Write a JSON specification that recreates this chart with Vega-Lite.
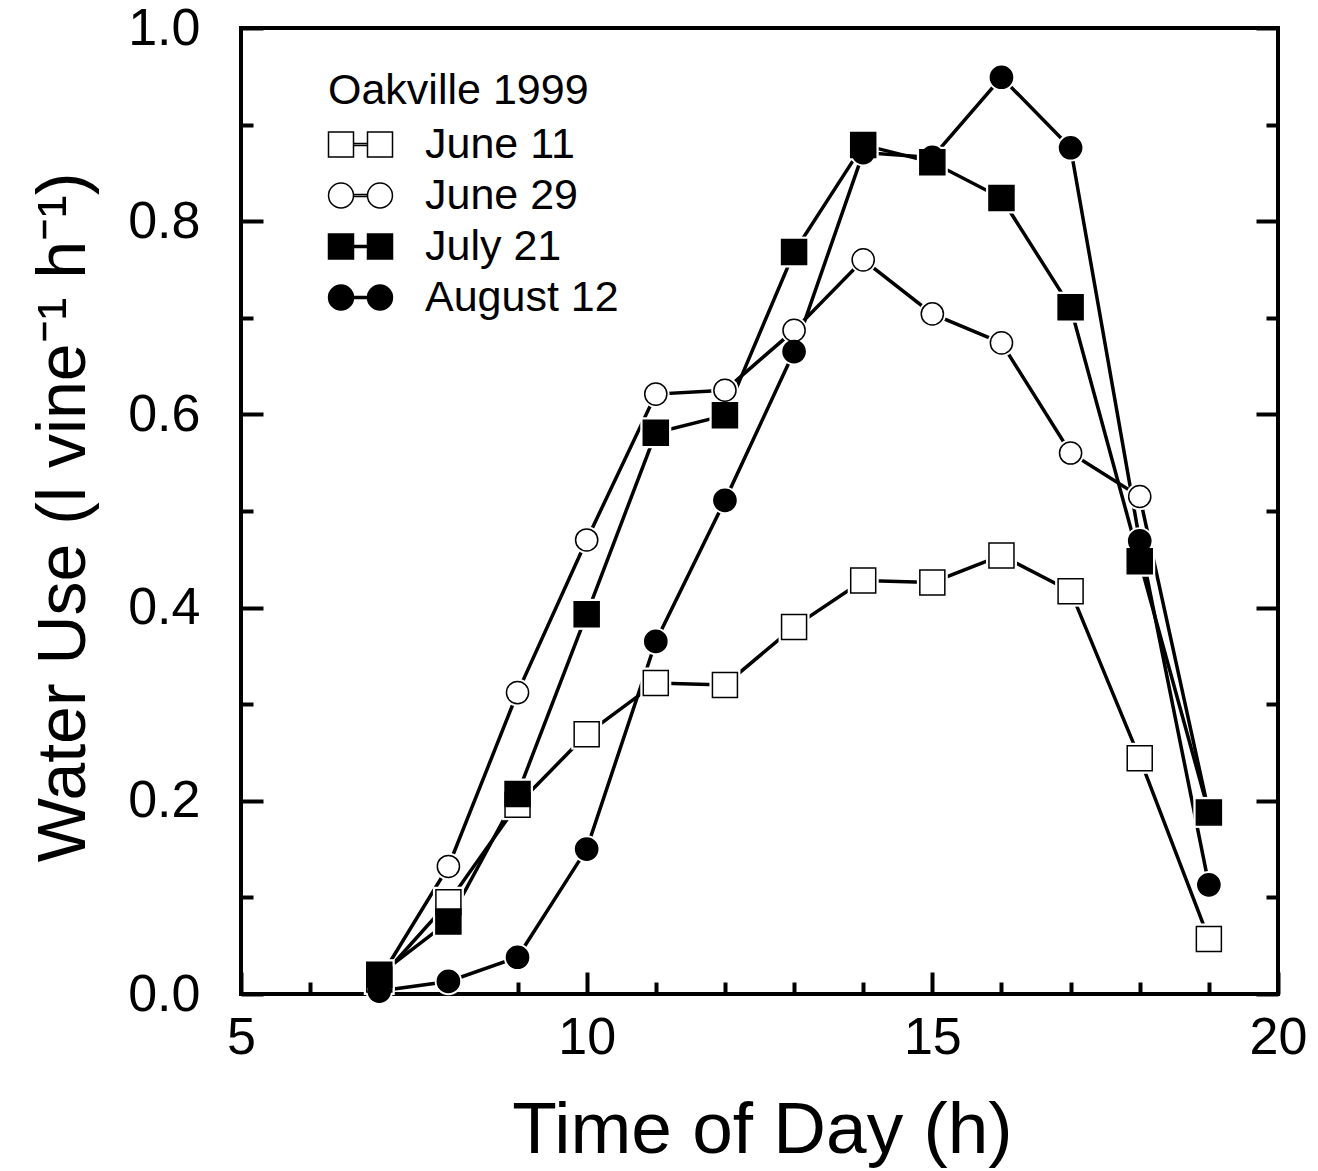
{
  "$schema": "https://vega.github.io/schema/vega-lite/v6.json",
  "width": 1037,
  "height": 966,
  "autosize": {"type": "none"},
  "padding": {"left": 241, "top": 28, "right": 40, "bottom": 177},
  "background": "white",
  "config": {
    "font": "Liberation Sans",
    "view": {"stroke": "black", "strokeWidth": 4},
    "axis": {
      "domain": false,
      "grid": false,
      "labelFont": "Liberation Sans",
      "labelFontSize": 52,
      "labelColor": "black",
      "tickColor": "black",
      "tickWidth": 4,
      "titleFont": "Liberation Sans",
      "titleFontWeight": "normal",
      "titleColor": "black"
    },
    "legend": {
      "orient": "none",
      "legendX": 87,
      "legendY": 42,
      "padding": 0,
      "titleFont": "Liberation Sans",
      "titleFontSize": 43,
      "titleFontWeight": "normal",
      "titleColor": "black",
      "titleLimit": 2000,
      "titlePadding": 10,
      "labelFont": "Liberation Sans",
      "labelFontSize": 43,
      "labelColor": "black",
      "labelLimit": 2000,
      "labelOffset": 54,
      "rowPadding": 7,
      "symbolStrokeWidth": 1.5,
      "symbolOpacity": 1,
      "symbolSize": 1024
    }
  },
  "data": {
    "values": [
      {"series": "June 11", "time": 7, "use": 0.015},
      {"series": "June 11", "time": 8, "use": 0.095},
      {"series": "June 11", "time": 9, "use": 0.196},
      {"series": "June 11", "time": 10, "use": 0.269},
      {"series": "June 11", "time": 11, "use": 0.322},
      {"series": "June 11", "time": 12, "use": 0.320},
      {"series": "June 11", "time": 13, "use": 0.380},
      {"series": "June 11", "time": 14, "use": 0.428},
      {"series": "June 11", "time": 15, "use": 0.426},
      {"series": "June 11", "time": 16, "use": 0.454},
      {"series": "June 11", "time": 17, "use": 0.417},
      {"series": "June 11", "time": 18, "use": 0.244},
      {"series": "June 11", "time": 19, "use": 0.057},
      {"series": "June 29", "time": 7, "use": 0.015},
      {"series": "June 29", "time": 8, "use": 0.132},
      {"series": "June 29", "time": 9, "use": 0.312},
      {"series": "June 29", "time": 10, "use": 0.470},
      {"series": "June 29", "time": 11, "use": 0.621},
      {"series": "June 29", "time": 12, "use": 0.625},
      {"series": "June 29", "time": 13, "use": 0.687},
      {"series": "June 29", "time": 14, "use": 0.760},
      {"series": "June 29", "time": 15, "use": 0.704},
      {"series": "June 29", "time": 16, "use": 0.674},
      {"series": "June 29", "time": 17, "use": 0.560},
      {"series": "June 29", "time": 18, "use": 0.515},
      {"series": "June 29", "time": 19, "use": 0.188},
      {"series": "August 12", "time": 7, "use": 0.003},
      {"series": "August 12", "time": 8, "use": 0.013},
      {"series": "August 12", "time": 9, "use": 0.038},
      {"series": "August 12", "time": 10, "use": 0.150},
      {"series": "August 12", "time": 11, "use": 0.365},
      {"series": "August 12", "time": 12, "use": 0.511},
      {"series": "August 12", "time": 13, "use": 0.665},
      {"series": "August 12", "time": 14, "use": 0.871},
      {"series": "August 12", "time": 15, "use": 0.866},
      {"series": "August 12", "time": 16, "use": 0.949},
      {"series": "August 12", "time": 17, "use": 0.876},
      {"series": "August 12", "time": 18, "use": 0.469},
      {"series": "August 12", "time": 19, "use": 0.113},
      {"series": "July 21", "time": 7, "use": 0.020},
      {"series": "July 21", "time": 8, "use": 0.075},
      {"series": "July 21", "time": 9, "use": 0.207},
      {"series": "July 21", "time": 10, "use": 0.393},
      {"series": "July 21", "time": 11, "use": 0.581},
      {"series": "July 21", "time": 12, "use": 0.599},
      {"series": "July 21", "time": 13, "use": 0.768},
      {"series": "July 21", "time": 14, "use": 0.879},
      {"series": "July 21", "time": 15, "use": 0.861},
      {"series": "July 21", "time": 16, "use": 0.824},
      {"series": "July 21", "time": 17, "use": 0.711},
      {"series": "July 21", "time": 18, "use": 0.448},
      {"series": "July 21", "time": 19, "use": 0.188}
    ]
  },
  "resolve": {"scale": {"y": "independent", "shape": "independent", "fill": "independent"}},
  "layer": [
    {
      "mark": {"type": "line", "stroke": "black", "strokeWidth": 3.5},
      "encoding": {
        "x": {
          "field": "time", "type": "quantitative",
          "scale": {"domain": [5, 20], "nice": false, "zero": false},
          "axis": {
            "orient": "bottom",
            "values": [5, 6, 7, 8, 9, 10, 11, 12, 13, 14, 15, 16, 17, 18, 19, 20],
            "format": "d",
            "labelExpr": "datum.value % 5 === 0 ? format(datum.value, 'd') : ''",
            "tickSize": {"condition": {"test": "datum.value % 5 === 0", "value": -22}, "value": -12},
            "labelPadding": 40,
            "labelFlush": false,
            "title": "Time of Day (h)",
            "titleFontSize": 73,
            "titleX": 521,
            "titleY": 158,
            "titleAlign": "center",
            "titleBaseline": "alphabetic",
            "titleAnchor": null
          }
        },
        "y": {
          "field": "use", "type": "quantitative",
          "scale": {"domain": [0, 1], "nice": false, "zero": false},
          "axis": {
            "orient": "left",
            "values": [0, 0.1, 0.2, 0.3, 0.4, 0.5, 0.6, 0.7, 0.8, 0.9, 1.0],
            "labelExpr": "round(datum.value * 10) % 2 === 0 ? format(datum.value, '.1f') : ''",
            "tickSize": {"condition": {"test": "round(datum.value * 10) % 2 === 0", "value": -22}, "value": -12},
            "labelPadding": 63,
            "labelFlush": false,
            "title": "Water Use (l vine⁻¹ h⁻¹)",
            "titleFontSize": 68,
            "titleAngle": -90,
            "titleX": -157,
            "titleY": 489,
            "titleAlign": "center",
            "titleBaseline": "alphabetic",
            "titleAnchor": null
          }
        },
        "detail": {"field": "series"}
      }
    },
    {
      "mark": {"type": "point", "filled": true, "opacity": 0, "stroke": "black", "strokeWidth": 1.5},
      "encoding": {
        "x": {"field": "time", "type": "quantitative"},
        "y": {"field": "use", "type": "quantitative", "scale": {"domain": [0, 1], "nice": false, "zero": false}, "axis": null},
        "stroke": {"value": "black"},
        "strokeWidth": {"value": 1.5},
        "shape": {
          "field": "series", "type": "nominal",
          "scale": {
            "domain": ["June 11", "June 29", "July 21", "August 12"],
            "range": [
              "M-1.3125,-0.78H0.25V0.78H-1.3125Z M1.125,-0.78H2.6875V0.78H1.125Z M0.25,-0.07H1.125V0.07H0.25Z",
              "M0.25,0A0.78,0.78 0 1,1 -1.31,0A0.78,0.78 0 1,1 0.25,0Z M2.685,0A0.78,0.78 0 1,1 1.125,0A0.78,0.78 0 1,1 2.685,0Z M0.25,-0.07H1.125V0.07H0.25Z",
              "M-1.3125,-0.78H0.25V0.78H-1.3125Z M1.125,-0.78H2.6875V0.78H1.125Z M0.25,-0.07H1.125V0.07H0.25Z",
              "M0.25,0A0.78,0.78 0 1,1 -1.31,0A0.78,0.78 0 1,1 0.25,0Z M2.685,0A0.78,0.78 0 1,1 1.125,0A0.78,0.78 0 1,1 2.685,0Z M0.25,-0.07H1.125V0.07H0.25Z"
            ]
          },
          "legend": {"title": "Oakville 1999", "symbolOpacity": 1, "symbolStrokeWidth": 1.5}
        },
        "fill": {
          "field": "series", "type": "nominal",
          "scale": {"domain": ["June 11", "June 29", "July 21", "August 12"], "range": ["white", "white", "black", "black"]},
          "legend": {"title": "Oakville 1999", "symbolOpacity": 1, "symbolStrokeWidth": 1.5}
        }
      }
    },
    {
      "transform": [{"filter": "datum.series === 'June 11' || datum.series === 'July 21'"}],
      "mark": {"type": "point", "shape": "square", "filled": true, "fill": "white", "strokeWidth": 0, "opacity": 1, "size": 961},
      "encoding": {
        "x": {"field": "time", "type": "quantitative"},
        "y": {"field": "use", "type": "quantitative", "scale": {"domain": [0, 1], "nice": false, "zero": false}, "axis": null}
      }
    },
    {
      "transform": [{"filter": "datum.series === 'June 29' || datum.series === 'August 12'"}],
      "mark": {"type": "point", "shape": "circle", "filled": true, "fill": "white", "strokeWidth": 0, "opacity": 1, "size": 755},
      "encoding": {
        "x": {"field": "time", "type": "quantitative"},
        "y": {"field": "use", "type": "quantitative", "scale": {"domain": [0, 1], "nice": false, "zero": false}, "axis": null}
      }
    },
    {
      "mark": {"type": "point", "filled": true, "stroke": "black", "strokeWidth": 1.5, "opacity": 1},
      "encoding": {
        "x": {"field": "time", "type": "quantitative"},
        "y": {
          "field": "use", "type": "quantitative",
          "scale": {"domain": [0, 1], "nice": false, "zero": false},
          "axis": {
            "orient": "right",
            "values": [0, 0.1, 0.2, 0.3, 0.4, 0.5, 0.6, 0.7, 0.8, 0.9, 1.0],
            "labels": false,
            "title": null,
            "tickSize": {"condition": {"test": "round(datum.value * 10) % 2 === 0", "value": -22}, "value": -12}
          }
        },
        "shape": {
          "field": "series", "type": "nominal",
          "scale": {"domain": ["June 11", "June 29", "July 21", "August 12"], "range": ["square", "circle", "square", "circle"]},
          "legend": null
        },
        "fill": {
          "field": "series", "type": "nominal",
          "scale": {"domain": ["June 11", "June 29", "July 21", "August 12"], "range": ["white", "white", "black", "black"]},
          "legend": null
        },
        "size": {
          "condition": {"test": "datum.series === 'June 11' || datum.series === 'July 21'", "value": 625},
          "value": 491
        }
      }
    }
  ]
}
